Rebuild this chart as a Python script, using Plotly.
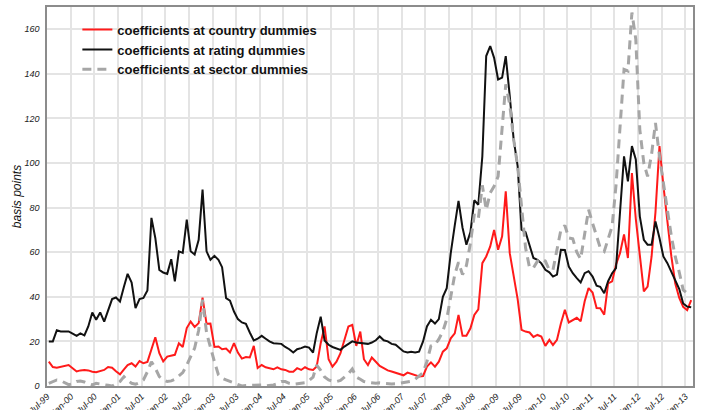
import pandas as pd
import plotly.graph_objects as go

# Monthly observations, Jul-1999 .. Feb-2013 (basis points)
start_month = "1999-07-01"
n_months = 164

country = [
    10.9, 8.5, 8.2, 8.6, 9.0, 9.4, 8.0, 6.5, 7.0, 7.2, 7.0, 6.4, 6.2, 6.8, 7.2, 8.5, 8.2, 6.6, 5.2, 7.5,
    9.4, 10.2, 8.7, 11.2, 10.2, 10.8, 16.5, 21.9, 14.7, 11.0, 13.2, 13.5, 14.0, 19.2, 17.5, 26.0, 28.9, 26.5, 28.2, 39.6,
    27.9, 28.0, 17.5, 17.7, 16.5, 16.8, 15.0, 19.2, 15.0, 12.3, 13.0, 12.8, 18.0, 8.1, 9.4, 8.4, 8.0, 7.5, 8.4, 7.5,
    7.2, 6.4, 6.4, 8.0, 7.2, 8.4, 7.5, 7.2, 8.7, 19.2, 26.7, 12.0, 8.7, 10.9, 14.7, 21.0, 26.7, 27.4, 18.0, 24.4,
    12.0, 9.4, 12.8, 10.9, 9.0, 8.0, 7.0, 6.5, 6.0, 5.2, 4.8, 6.0, 5.5, 4.8, 4.3, 4.5, 8.7, 10.6, 8.7, 10.9,
    15.4, 16.9, 21.4, 23.6, 31.9, 22.5, 22.5, 25.9, 31.9, 34.4, 55.1, 58.1, 62.6, 70.0, 61.1, 67.1, 87.3, 59.6, 50.0, 39.0,
    25.2, 24.4, 24.0, 22.0, 22.9, 22.2, 18.0, 20.7, 18.4, 20.7, 28.0, 34.2, 28.5, 29.7, 30.6, 29.0, 38.0, 43.9, 41.9, 35.0,
    34.9, 32.0, 46.0, 46.9, 54.4, 59.6, 68.0, 57.4, 95.5, 75.0, 58.1, 42.4, 44.6, 58.1, 78.0, 107.6, 90.0, 73.0, 58.0, 46.0,
    39.5, 35.5, 34.0, 38.5,
]

rating = [
    20.0, 20.0, 25.0, 24.5, 24.5, 24.5, 23.5, 22.5, 23.6, 22.7, 26.7, 33.0, 29.7, 33.0, 28.9, 34.0, 39.0, 39.7, 37.9, 44.6,
    50.3, 46.4, 34.9, 39.0, 39.5, 42.8, 75.4, 66.4, 52.1, 50.9, 50.3, 56.9, 46.9, 60.4, 59.7, 74.6, 60.4, 59.0, 65.6, 88.1,
    60.4, 56.6, 58.4, 56.6, 53.3, 39.4, 38.3, 33.4, 30.0, 28.5, 27.9, 24.0, 20.4, 21.2, 22.5, 21.2, 20.0, 19.2, 19.0, 18.9,
    17.5, 16.5, 15.0, 16.5, 17.0, 17.7, 17.2, 15.0, 23.6, 31.1, 20.4, 18.5, 17.5, 16.9, 16.2, 17.7, 19.0, 20.0, 19.5, 19.3,
    19.2, 18.9, 19.5, 20.5, 22.2, 20.5, 20.0, 18.9, 18.5, 17.0, 15.5, 15.0, 15.4, 15.0, 15.4, 20.0, 26.7, 29.7, 28.0, 30.0,
    40.0, 43.9, 59.6, 72.0, 83.0, 71.0, 63.4, 69.0, 83.3, 81.3, 103.0, 148.0, 152.5, 147.2, 137.5, 138.3, 148.0, 130.0, 110.6, 98.6,
    70.1, 69.0, 62.6, 57.4, 56.6, 55.0, 52.1, 51.0, 49.1, 50.0, 61.1, 61.0, 53.6, 50.6, 48.4, 46.5, 50.6, 51.5, 49.1, 45.0,
    44.5, 41.6, 47.0, 50.6, 52.9, 77.6, 103.0, 91.8, 107.6, 101.6, 76.1, 65.6, 63.4, 63.4, 73.8, 66.4, 58.1, 55.1, 51.0, 47.5,
    43.5, 37.0, 35.6, 35.3,
]

sector = [
    1.2, 2.0, 2.7, 2.4, 1.5, 0.6, 1.0, 2.0, 2.2, 1.8, 1.0, 0.5, 1.2, 1.0, 0.8, 0.3, 0.0, 1.0, 2.0, 4.2,
    2.5, 1.2, 0.8, 1.5, 2.7, 6.4, 10.9, 8.0, 4.2, 2.7, 2.0, 2.3, 3.0, 4.5, 6.0, 9.4, 13.0, 17.0, 25.0, 38.7,
    23.8, 17.0, 10.9, 5.0, 3.5, 2.7, 2.0, 1.3, 0.5, 0.0, 0.2, 0.3, 0.2, 0.2, 0.5, 0.0, 0.2, 0.5, 1.0, 2.0,
    2.0, 1.2, 0.8, 1.0, 1.3, 1.5, 2.5, 4.0, 9.4, 7.0, 4.0, 2.7, 2.2, 2.0, 2.5, 4.0, 5.5, 7.6, 4.0, 3.0,
    2.0, 1.6, 1.3, 1.2, 1.4, 1.2, 1.0, 0.9, 1.0, 1.2, 1.4, 1.8, 2.1, 3.0, 4.3, 6.0, 11.0, 18.0, 18.5, 21.0,
    24.5, 30.0, 40.0, 50.0, 55.5, 50.0, 54.0, 64.1, 76.9, 75.0, 90.0, 79.0, 86.6, 89.6, 94.0, 116.5, 135.3, 126.3, 110.6, 98.6,
    82.0, 62.0, 53.0, 53.0, 56.0, 57.0, 56.0, 52.0, 52.1, 62.0, 70.0, 72.0, 66.4, 66.0, 60.0, 57.0, 68.6, 79.1, 73.0, 67.0,
    62.0, 60.4, 66.0, 71.6, 90.0, 115.0, 142.0, 141.3, 167.5, 155.5, 115.0, 100.0, 94.0, 104.0, 118.0, 103.0, 92.0, 79.0, 67.1, 58.0,
    51.0, 43.1, 41.6, 42.4,
]

y_ticks = [0, 20, 40, 60, 80, 100, 120, 140, 160]

# Points sit mid-month so each month fills its own slot on the date axis
months = pd.date_range(start_month, periods=n_months, freq="MS") + pd.Timedelta(days=14)

fig = go.Figure()
fig.add_trace(go.Scatter(
    x=months, y=country, mode="lines", name="coefficients at country dummies",
    line=dict(color="#FF1A1A", width=2),
))
fig.add_trace(go.Scatter(
    x=months, y=rating, mode="lines", name="coefficients at rating dummies",
    line=dict(color="#111111", width=2),
))
fig.add_trace(go.Scatter(
    x=months, y=sector, mode="lines", name="coefficients at sector dummies",
    line=dict(color="#A6A6A6", width=3, dash="9px,6px"),
))

axis_font = dict(family="Liberation Sans, Arial, sans-serif", size=9, color="#222222")

fig.update_layout(
    width=704, height=410,
    margin=dict(l=47, r=11, t=7, b=24),
    paper_bgcolor="white", plot_bgcolor="white",
    showlegend=True,
    legend=dict(
        x=0.047, y=0.98, xanchor="left", yanchor="top",
        bgcolor="rgba(0,0,0,0)", borderwidth=0,
        font=dict(family="Liberation Sans, Arial, sans-serif", size=13, color="#111111", weight="bold"),
        tracegroupgap=0,
    ),
    xaxis=dict(
        type="date",
        range=["1999-07-01", "2013-03-01"],
        tick0="1999-07-01", dtick="M6",
        tickformat="%b-%y", tickangle=-45,
        tickfont=dict(axis_font, style="italic"),
        showgrid=True, gridcolor="#E4E4E4", gridwidth=1.5,
        showline=True, linecolor="#8C8C8C", linewidth=1.5, mirror=True,
        ticks="", automargin=False, zeroline=False,
    ),
    yaxis=dict(
        range=[0, 170],
        tickvals=y_ticks,
        tickfont=dict(axis_font, style="italic"),
        showgrid=True, gridcolor="#E4E4E4", gridwidth=1.5,
        showline=True, linecolor="#8C8C8C", linewidth=1.5, mirror=True,
        ticks="outside", ticklen=4, tickcolor="white",
        zeroline=False, automargin=False,
        title=dict(text="basis points", standoff=0,
                   font=dict(family="Liberation Sans, Arial, sans-serif", size=12,
                             color="#111111", style="italic")),
    ),
)

fig.write_html("out.html")
